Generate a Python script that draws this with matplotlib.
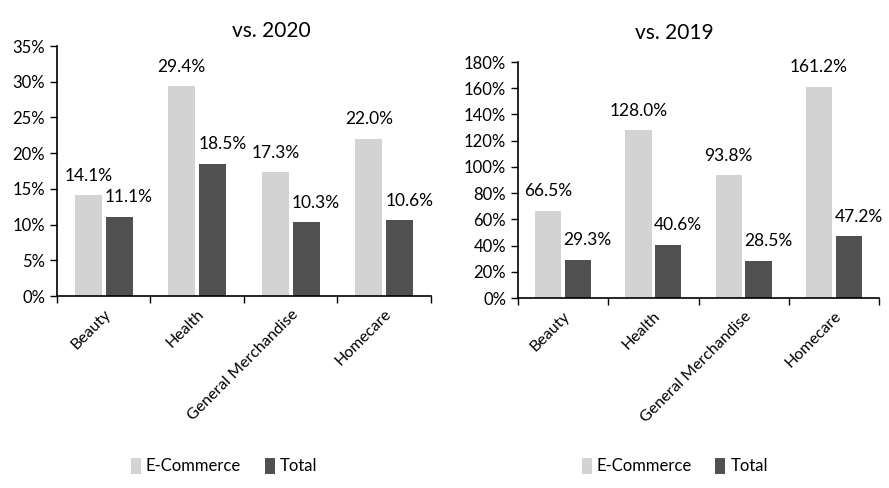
import matplotlib.pyplot as plt
import numpy as np
from matplotlib.ticker import FuncFormatter, FixedLocator

plt.rcParams['font.family'] = ['Lato', 'DejaVu Sans']

categories = ["Beauty", "Health", "General Merchandise", "Homecare"]
ecom_2020 = [14.1, 29.4, 17.3, 22.0]
total_2020 = [11.1, 18.5, 10.3, 10.6]
ecom_2019 = [66.5, 128.0, 93.8, 161.2]
total_2019 = [29.3, 40.6, 28.5, 47.2]

light = "#d3d3d3"
dark = "#505050"

fig = plt.figure(figsize=(8.89, 4.88), dpi=100)
ax1 = fig.add_axes([0.0641, 0.3934, 0.4207, 0.5123])
ax2 = fig.add_axes([0.5827, 0.3893, 0.4061, 0.4836])


def draw(ax, ecom, total, ymax, step, title, title_xy, legend_x):
    x = np.arange(len(categories))
    w = 0.29
    off = 0.165
    b1 = ax.bar(x - off, ecom, w, color=light, label="E-Commerce")
    b2 = ax.bar(x + off, total, w, color=dark, label="Total")
    for xi, v in zip(x, ecom):
        ax.annotate(f"{v:.1f}%", (xi - off, v), xytext=(0, 14),
                    textcoords="offset points", ha="center", va="center",
                    fontsize=12.5)
    for xi, v in zip(x, total):
        ax.annotate(f"{v:.1f}%", (xi + off, v), xytext=(7, 14),
                    textcoords="offset points", ha="center", va="center",
                    fontsize=12.5)
    ax.set_xlim(-0.5, len(categories) - 0.5)
    ax.set_ylim(0, ymax)
    ax.set_yticks(np.arange(0, ymax + step / 2, step))
    ax.yaxis.set_major_formatter(FuncFormatter(lambda v, p: f"{v:.0f}%"))
    ax.xaxis.set_major_locator(FixedLocator(np.arange(-0.5, len(categories), 1.0)))
    ax.xaxis.set_minor_locator(FixedLocator(x))
    ax.set_xticklabels([], minor=False)
    ax.set_xticklabels(categories, minor=True, rotation=45, ha="right",
                       rotation_mode="anchor", fontsize=11.5)
    ax.tick_params(axis="x", which="major", length=5, width=1, direction="out")
    ax.tick_params(axis="x", which="minor", length=0, pad=8)
    ax.tick_params(axis="y", length=5, width=1, labelsize=12)
    for s in ["top", "right"]:
        ax.spines[s].set_visible(False)
    for s in ["left", "bottom"]:
        ax.spines[s].set_linewidth(1.2)
    fig.text(title_xy[0], title_xy[1], title, fontsize=15, ha="center", va="center")
    fig.legend(handles=[b1, b2], loc="center", bbox_to_anchor=(legend_x, 0.045),
               ncol=2, frameon=False, fontsize=12, handlelength=0.6,
               handleheight=1.1, handletextpad=0.3, columnspacing=1.4)


draw(ax1, ecom_2020, total_2020, 35, 5, "vs. 2020", (0.305, 0.936), 0.252)
draw(ax2, ecom_2019, total_2019, 180, 20, "vs. 2019", (0.759, 0.932), 0.759)

fig.savefig("out.png", dpi=100)
